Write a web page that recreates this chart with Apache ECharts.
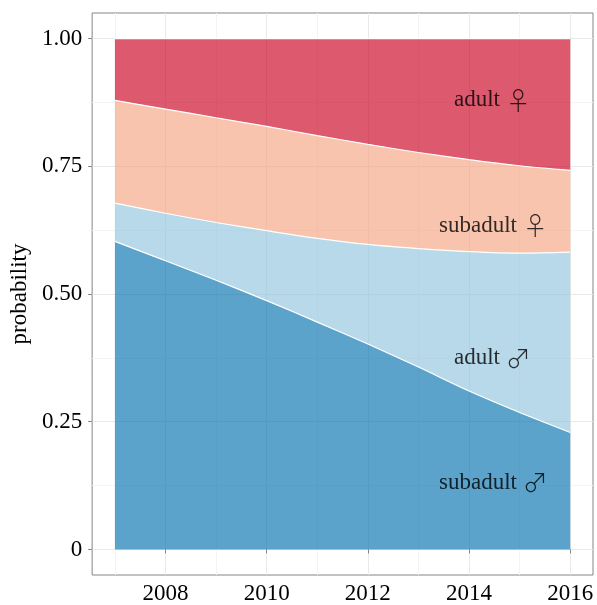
<!DOCTYPE html>
<html>
<head>
<meta charset="utf-8">
<script src="https://cdn.jsdelivr.net/npm/echarts@6/dist/echarts.min.js"></script>
<style>
  html, body { margin: 0; padding: 0; background: #fff; }
  #chart { width: 597px; height: 605px; }
</style>
</head>
<body>
<div id="chart"></div>
<script>
// years and class probabilities
const years = [2007, 2008, 2009, 2010, 2011, 2012, 2013, 2014, 2015, 2016];
const subadultMale   = [0.603, 0.565, 0.527, 0.487, 0.445, 0.402, 0.357, 0.310, 0.268, 0.229];
const adultMale      = [0.075, 0.093, 0.113, 0.137, 0.164, 0.195, 0.232, 0.273, 0.312, 0.353];
const subadultFemale = [0.201, 0.204, 0.205, 0.204, 0.201, 0.196, 0.188, 0.180, 0.171, 0.160];
const adultFemale    = [0.121, 0.138, 0.155, 0.172, 0.190, 0.207, 0.223, 0.237, 0.249, 0.258];

const xMajor = [2008, 2010, 2012, 2014, 2016];
const xMinor = [2007, 2009, 2011, 2013, 2015];
const yMajor = [0, 0.25, 0.5, 0.75, 1];
const yMinor = [0.125, 0.375, 0.625, 0.875];

const labelWords = ['adult', 'subadult', 'adult', 'subadult'];
const labelSigns = ['♀', '♀', '♂', '♂'];
const labelX = [2014.46, 2014.48, 2014.46, 2014.48];
const labelY = [0.879, 0.634, 0.374, 0.131];

const serif = '"Liberation Serif", "DejaVu Serif", serif';
const axisGrey = '#858585';

// value first so the stack runs on the probability dimension
function pairs(arr) {
  return years.map((y, i) => [arr[i], y]);
}

function areaSeries(name, arr, color) {
  return {
    name: name,
    type: 'line',
    stack: 'total',
    encode: { x: 1, y: 0 },
    data: pairs(arr),
    smooth: 0.3,
    showSymbol: false,
    symbol: 'none',
    lineStyle: { color: '#fff', width: 1.2 },
    areaStyle: { color: color, opacity: 1 },
    z: 2
  };
}

let chart = echarts.init(document.getElementById('chart'));

let option = {
  animation: false,
  backgroundColor: '#fff',
  grid: {
    left: 92,
    top: 13,
    width: 501,
    height: 562,
    show: true,
    borderColor: axisGrey,
    borderWidth: 1,
    backgroundColor: '#fff'
  },
  xAxis: [
    {
      type: 'value',
      position: 'bottom',
      min: 2006.55,
      max: 2016.45,
      axisLine: { show: false },
      axisTick: {
        show: true,
        length: 4,
        customValues: xMajor,
        lineStyle: { color: axisGrey }
      },
      axisLabel: {
        customValues: xMajor,
        color: '#000',
        fontFamily: serif,
        fontSize: 23,
        margin: 7,
        formatter: v => String(v)
      },
      splitLine: { show: true, lineStyle: { color: '#e9e9e9', width: 1 } }
    },
    {
      type: 'value',
      position: 'top',
      min: 2006.55,
      max: 2016.45,
      axisLine: { show: false },
      axisTick: { show: false, customValues: xMinor },
      axisLabel: { show: false, customValues: xMinor },
      splitLine: { show: true, lineStyle: { color: '#f4f4f4', width: 1 } }
    }
  ],
  yAxis: [
    {
      type: 'value',
      position: 'left',
      min: -0.05,
      max: 1.05,
      name: 'probability',
      nameLocation: 'middle',
      nameGap: 58,
      nameTextStyle: { color: '#000', fontFamily: serif, fontSize: 23 },
      axisLine: { show: false },
      axisTick: {
        show: true,
        length: 4,
        customValues: yMajor,
        lineStyle: { color: axisGrey }
      },
      axisLabel: {
        customValues: yMajor,
        color: '#000',
        fontFamily: serif,
        fontSize: 23,
        margin: 10,
        formatter: v => (v === 0 ? '0' : v.toFixed(2))
      },
      splitLine: { show: true, lineStyle: { color: '#e9e9e9', width: 1 } }
    },
    {
      type: 'value',
      position: 'right',
      min: -0.05,
      max: 1.05,
      axisLine: { show: false },
      axisTick: { show: false, customValues: yMinor },
      axisLabel: { show: false, customValues: yMinor },
      splitLine: { show: true, lineStyle: { color: '#f4f4f4', width: 1 } }
    }
  ],
  series: [
    areaSeries('subadult ♂', subadultMale, 'rgba(5,113,176,0.65)'),
    areaSeries('adult ♂', adultMale, 'rgba(146,197,222,0.65)'),
    areaSeries('subadult ♀', subadultFemale, 'rgba(244,165,130,0.65)'),
    areaSeries('adult ♀', adultFemale, 'rgba(202,0,32,0.65)'),
    {
      name: 'labels',
      type: 'scatter',
      symbolSize: 1,
      itemStyle: { color: 'rgba(0,0,0,0)' },
      z: 5,
      data: labelWords.map((w, i) => ({ name: w, sign: labelSigns[i], value: [labelX[i], labelY[i]] })),
      label: {
        show: true,
        position: 'inside',
        formatter: p => '{w|' + p.name + ' }{s|' + p.data.sign + '}',
        rich: {
          w: { color: '#000', fontFamily: serif, fontSize: 23 },
          s: { color: '#000', fontFamily: '"Noto Sans CJK JP"', fontWeight: 300, fontSize: 25 }
        }
      }
    }
  ]
};

chart.setOption(option);
</script>
</body>
</html>
